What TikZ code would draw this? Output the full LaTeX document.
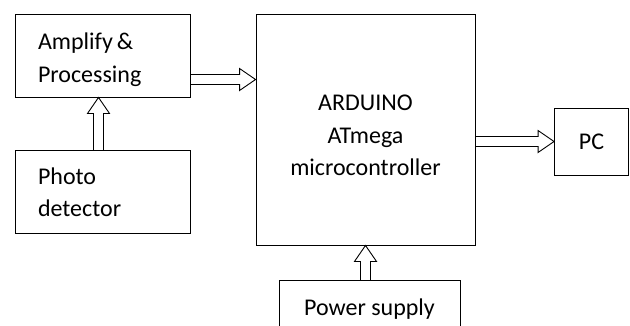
\documentclass[tikz,border=0pt]{standalone}
\usepackage{fontspec}
\setmainfont{Carlito}
\usetikzlibrary{positioning,calc}

\begin{document}
\begin{tikzpicture}[
    x=1pt, y=-1pt,
    % Plain block
    blk/.style={
        draw,
        line width=0.9pt,
        align=center,
        font=\fontsize{24}{32.5}\selectfont
    },
    % Left-hand blocks
    side blk/.style={
        blk,
        align=left,
        text width=129pt,
        inner xsep=23pt,
        minimum height=83pt
    },
    % Hollow arrow
    hollow/.style={
        line width=0.9pt,
        to path={
            ($(\tikztostart)!5pt!90:(\tikztotarget)$)
            -- ($($(\tikztotarget)!16pt!(\tikztostart)$)!5pt!-90:(\tikztostart)$)
            -- ($($(\tikztotarget)!16pt!(\tikztostart)$)!11pt!-90:(\tikztostart)$)
            -- (\tikztotarget)
            -- ($($(\tikztotarget)!16pt!(\tikztostart)$)!11pt!90:(\tikztostart)$)
            -- ($($(\tikztotarget)!16pt!(\tikztostart)$)!5pt!90:(\tikztostart)$)
            -- ($(\tikztostart)!5pt!-90:(\tikztotarget)$)
        }
    }
]

\useasboundingbox (0,0) rectangle (630,325);

% Input chain
\node[side blk] (amp) at (102.5,55.5) {\rule{0pt}{25pt}Amplify\,\&\\Processing};
\node[side blk, below=53pt of amp] (photo) {Photo\\detector};

% Controller and outputs
\node[blk, minimum width=219pt, minimum height=231pt] (arduino) at (365.5,129.5) {\rule{0pt}{28pt}ARDUINO\\ATmega\\microcontroller};
\node[blk, minimum width=74pt, minimum height=67pt] (pc) at (591.5,141.5) {PC};
\node[blk, minimum width=181pt, inner ysep=0pt, text height=35pt, text depth=25pt, anchor=north] (power) at (369.5,280) {Power supply};

% Connections
\coordinate (ampout) at ([yshift=-24pt]amp.east);
\coordinate (photoout) at ([xshift=-4pt]photo.north);
\draw[hollow] (photoout) to (amp.south -| photoout);
\draw[hollow] (ampout) to (arduino.west |- ampout);
\draw[hollow] (arduino.east |- pc.west) to (pc.west);
\draw[hollow] (power.north -| arduino.south) to (arduino.south);

\end{tikzpicture}
\end{document}
